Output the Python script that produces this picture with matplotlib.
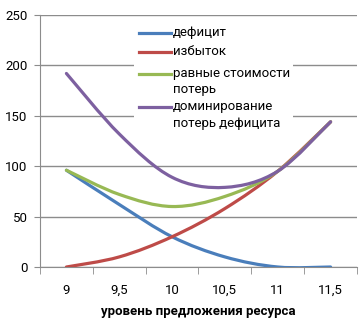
import matplotlib
matplotlib.use("Agg")
import matplotlib.pyplot as plt
import numpy as np
from matplotlib.path import Path
from matplotlib.patches import PathPatch, Rectangle
from matplotlib.lines import Line2D

plt.rcParams['font.family'] = ['Roboto', 'DejaVu Sans']

# categories and series
categories = ['9', '9,5', '10', '10,5', '11', '11,5']
deficit = [96, 62, 30, 10, 0, 0]
surplus = [0, 10, 30, 58, 95, 144]
equal_cost = [96, 72, 60, 70, 95, 144]
deficit_dominant = [192, 132, 89, 79, 95, 144]

labels = ['дефицит', 'избыток', 'равные стоимости\nпотерь', 'доминирование\nпотерь дефицита']
colors = ['#4A7EBB', '#BE4B48', '#98B954', '#7D60A0']
series = [deficit, surplus, equal_cost, deficit_dominant]

W, H = 359, 328


def smooth_path(xs, ys):
    # Excel-like smoothed line: cubic bezier segments through the points
    pts = np.column_stack([xs, ys]).astype(float)
    n = len(pts)
    verts = [pts[0]]
    codes = [Path.MOVETO]
    for i in range(n - 1):
        p0 = pts[i - 1] if i > 0 else pts[i]
        p1 = pts[i]
        p2 = pts[i + 1]
        p3 = pts[i + 2] if i + 2 < n else pts[i + 1]
        verts += [p1 + (p2 - p0) / 6, p2 - (p3 - p1) / 6, p2]
        codes += [Path.CURVE4] * 3
    return Path(verts, codes)


fig = plt.figure(figsize=(W / 100, H / 100), dpi=100)
ax = fig.add_axes([40 / W, 1 - 267 / H, 317 / W, 252 / H])

x = np.arange(len(categories))
for vals, col in zip(series, colors):
    ax.add_patch(PathPatch(smooth_path(x, vals), facecolor='none', edgecolor=col,
                           lw=2.3, capstyle='round', joinstyle='round', zorder=3))

ax.set_xlim(-0.5, len(categories) - 0.5)
ax.set_ylim(0, 250)
ax.set_yticks(np.arange(0, 251, 50))
ax.set_xticks(x)
ax.set_xticklabels(categories)
ax.set_xticks(np.arange(-0.5, len(categories), 1), minor=True)
ax.grid(True, axis='y', color='#8C8C8C', lw=1)
ax.set_axisbelow(True)
for s in ['top', 'right']:
    ax.spines[s].set_visible(False)
for s in ['left', 'bottom']:
    ax.spines[s].set_color('#8C8C8C')
ax.tick_params(axis='y', length=4, color='#8C8C8C', labelsize=9.5, pad=5)
ax.tick_params(axis='x', which='major', length=0, labelsize=9.5, pad=12)
ax.tick_params(axis='x', which='minor', length=5, color='#8C8C8C')
ax.set_xlabel('уровень предложения ресурса', fontsize=9.5, fontweight='bold', labelpad=6)

# legend drawn by hand so the sample line sits on the first text line
fig.patches.append(Rectangle((134 / W, 1 - 136 / H), 159 / W, 114 / H,
                             transform=fig.transFigure, facecolor='white', edgecolor='none'))
rows = [33, 52, 74, 107]
for lab, col, py in zip(labels, colors, rows):
    fig.lines.append(Line2D([139 / W, 171 / W], [1 - py / H, 1 - py / H],
                            transform=fig.transFigure, color=col, lw=2.3))
    fig.text(173 / W, 1 - (py - 7) / H, lab, fontsize=9.5, va='top', ha='left',
             linespacing=1.35)

fig.savefig('out.png', dpi=100)
